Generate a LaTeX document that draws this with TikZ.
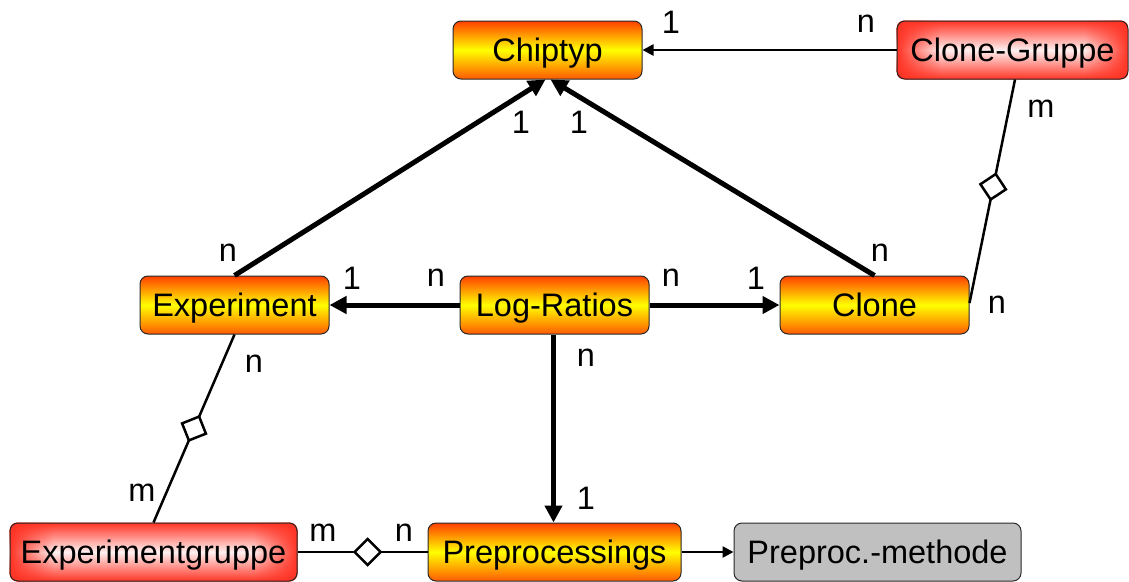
\documentclass[tikz,border=0pt]{standalone}
\usepackage{fontspec}
\setmainfont{Liberation Sans}
\usetikzlibrary{arrows.meta,shapes.geometric,calc,fadings,backgrounds}

\definecolor{ortop}{RGB}{255,64,0}
\definecolor{ormid}{RGB}{255,255,0}
\definecolor{orbot}{RGB}{255,90,0}
\definecolor{redout}{RGB}{255,50,35}
\definecolor{redin}{RGB}{255,240,240}
\definecolor{boxgray}{RGB}{192,192,192}
\definecolor{edgegray}{RGB}{40,40,40}

\tikzfading[name=fadeL, left color=transparent!0, right color=transparent!100]
\tikzfading[name=fadeR, left color=transparent!100, right color=transparent!0]

\begin{document}
\begin{tikzpicture}[x=1pt,y=-1pt,
  box/.style={rectangle, rounded corners=8pt, draw=edgegray, line width=1pt, inner sep=0pt,
    minimum height=58pt, text height=25pt, text depth=1.6pt, font=\fontsize{32.5}{38}\selectfont},
  orbox/.style={box, top color=ortop, bottom color=orbot, middle color=ormid},
  redbox/.style={box},
  graybox/.style={box, fill=boxgray},
  lab/.style={inner sep=0pt, font=\fontsize{32.5}{38}\selectfont},
  thickarrow/.style={line width=5pt, -{Triangle[length=17pt,width=17pt]}},
  thinarrow/.style={line width=2.5pt, -{Triangle[length=11pt,width=11pt]}},
  thinline/.style={line width=2.5pt},
  agg/.style={diamond, draw=black, line width=2.5pt, fill=white, inner sep=0pt, minimum size=27pt, sloped},
  redbg/.style={rounded corners=8pt, top color=redout, bottom color=redout, middle color=redin}
]
\useasboundingbox (0,0) rectangle (1129,581);

% nodes
\node[orbox, minimum width=189pt] (chip) at (547.5,50) {Chiptyp};
\node[redbox, minimum width=231pt] (cg) at (1012.5,50) {Clone-Gruppe};
\node[orbox, minimum width=189pt] (exp) at (234.5,305) {Experiment};
\node[orbox, minimum width=189pt] (lr) at (554.5,305) {Log-Ratios};
\node[orbox, minimum width=189pt] (clone) at (874.5,305) {Clone};
\node[redbox, minimum width=287pt] (eg) at (153.5,552) {Experimentgruppe};
\node[orbox, minimum width=253pt] (pp) at (554.5,552) {Preprocessings};
\node[graybox, minimum width=287pt] (pm) at (877.5,552) {Preproc.-methode};

% red glow backgrounds
\begin{scope}[on background layer]
  \foreach \n in {cg,eg}{
    \path[redbg] (\n.south west) rectangle (\n.north east);
    \begin{scope}
      \clip[rounded corners=8pt] (\n.south west) rectangle (\n.north east);
      \fill[redout, path fading=fadeL] (\n.south west) rectangle ($(\n.north west)+(44,0)$);
      \fill[redout, path fading=fadeR] ($(\n.south east)+(-44,0)$) rectangle (\n.north east);
    \end{scope}
  }
\end{scope}

% connectors
\draw[thinarrow] (cg) -- (chip);
\draw[thickarrow] (exp.north) -- ($(chip.south)+(-2,0)$);
\draw[thickarrow] (clone.north) -- ($(chip.south)+(3,0)$);
\draw[thickarrow] (lr) -- (exp);
\draw[thickarrow] (lr) -- (clone);
\draw[thickarrow] ($(lr.south)+(-1,0)$) -- ($(pp.north)+(-1,0)$);
\draw[thinarrow] (pp) -- (pm);
\draw[thinline] ($(cg.south)+(2.5,0)$) -- node[agg, pos=0.48] (d1) {} ($(clone.east)+(0,-2)$);
\draw[thinline] (exp.south) -- node[agg, pos=0.5] (d2) {} (eg.north);
\draw[thinline] (eg) -- node[agg, pos=0.54] (d3) {} (pp);

% multiplicities
\node[lab] (l1) at (671,22) {1};
\node[lab] (l2) at (866,24) {n};
\node[lab] (l3) at (1041,109) {m};
\node[lab] (l4) at (521,122) {1};
\node[lab] (l5) at (579,122) {1};
\node[lab] (l6) at (228,253) {n};
\node[lab] (l7) at (880,253) {n};
\node[lab] (l8) at (352,278) {1};
\node[lab] (l9) at (436,278) {n};
\node[lab] (l10) at (671,278) {n};
\node[lab] (l11) at (756,278) {1};
\node[lab] (l12) at (997,305) {n};
\node[lab] (l13) at (254,364) {n};
\node[lab] (l14) at (586,358) {n};
\node[lab] (l15) at (142,493) {m};
\node[lab] (l16) at (586,498) {1};
\node[lab] (l17) at (323,533) {m};
\node[lab] (l18) at (404,533) {n};
\end{tikzpicture}
\end{document}
